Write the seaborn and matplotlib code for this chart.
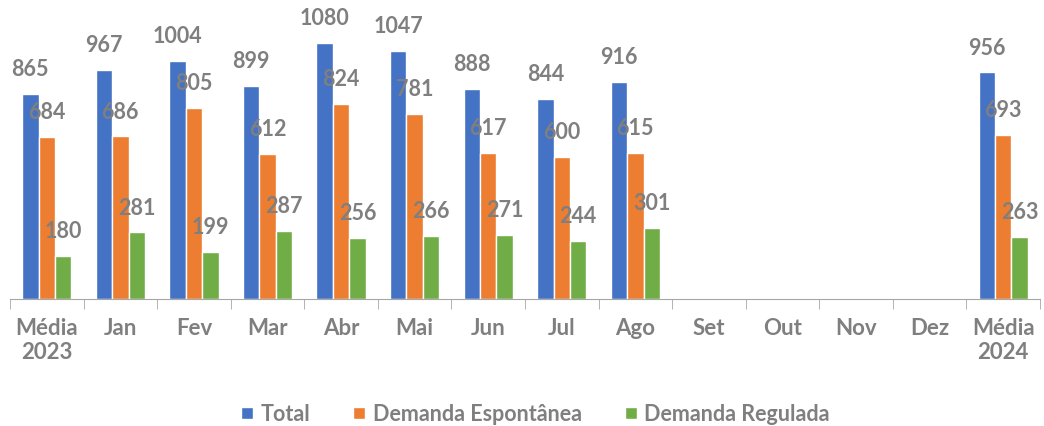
import numpy as np
import pandas as pd
import matplotlib
matplotlib.use("Agg")
import matplotlib.pyplot as plt
import seaborn as sns

# categories (x axis)
meses = ["Média\n2023", "Jan", "Fev", "Mar", "Abr", "Mai", "Jun", "Jul", "Ago",
         "Set", "Out", "Nov", "Dez", "Média\n2024"]
# months with data
meses_dados = ["Média\n2023", "Jan", "Fev", "Mar", "Abr", "Mai", "Jun", "Jul", "Ago",
               "Média\n2024"]
total = [865, 967, 1004, 899, 1080, 1047, 888, 844, 916, 956]
espontanea = [684, 686, 805, 612, 824, 781, 617, 600, 615, 693]
regulada = [180, 281, 199, 287, 256, 266, 271, 244, 301, 263]
series = ["Total", "Demanda Espontânea", "Demanda Regulada"]
cores = ["#4472C4", "#ED7D31", "#70AD47"]

df = pd.DataFrame({
    "mes": meses_dados * 3,
    "serie": np.repeat(series, len(meses_dados)),
    "valor": total + espontanea + regulada,
})

sns.set_style("white")
plt.rcParams["font.family"] = ["Lato", "DejaVu Sans"]
cinza = "#7f7f7f"

fig = plt.figure(figsize=(10.44, 4.26), dpi=100)
ax = fig.add_axes([10 / 1044, 127 / 426, 1030 / 1044, 299 / 426])

sns.barplot(data=df, x="mes", y="valor", hue="serie", order=meses,
            hue_order=series, palette=cores, width=0.67, gap=0,
            saturation=1, ax=ax)

for c in ax.containers:
    ax.bar_label(c, fmt="%d", padding=10, color=cinza, fontsize=15.5,
                 fontweight="bold")

ax.set_ylim(0, 1262)
ax.set_xlim(-0.5, len(meses) - 0.5)
ax.set_xlabel("")
ax.set_ylabel("")
ax.set_yticks([])
for s in ["top", "right", "left"]:
    ax.spines[s].set_visible(False)
ax.spines["bottom"].set_color("#a6a6a6")

ax.set_xticks(range(len(meses)))
ax.set_xticklabels(meses, color=cinza, fontsize=16, fontweight="bold",
                   linespacing=1.15)
ax.tick_params(axis="x", length=0, pad=14)
ax.set_xticks(np.arange(-0.5, len(meses)), minor=True)
ax.tick_params(axis="x", which="minor", length=7, color="#a6a6a6",
               direction="out", bottom=True)

leg = ax.legend(loc="center", bbox_to_anchor=(0.51, -0.385), ncol=3,
                frameon=False, handlelength=0.55, handleheight=0.55,
                handletextpad=0.35, columnspacing=2.0,
                prop={"size": 15.5, "weight": "bold"})
for t in leg.get_texts():
    t.set_color(cinza)

fig.savefig("out.png", dpi=100)
